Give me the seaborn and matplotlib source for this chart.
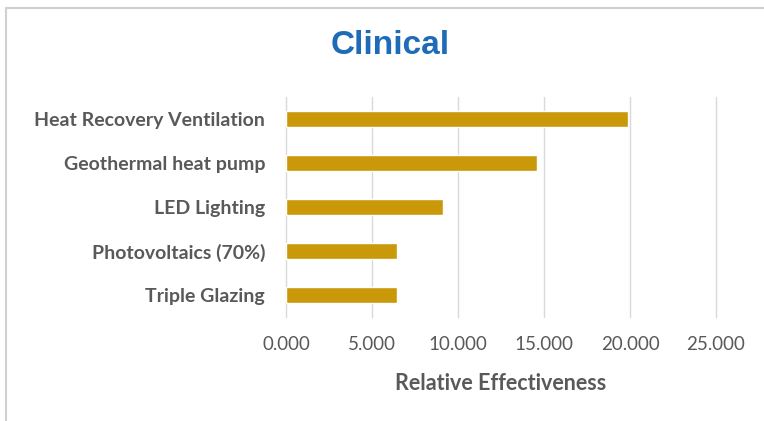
import matplotlib
matplotlib.use("Agg")
import matplotlib.pyplot as plt
import seaborn as sns
import pandas as pd
from matplotlib.ticker import FormatStrFormatter
from matplotlib.lines import Line2D

categories = ["Heat Recovery Ventilation", "Geothermal heat pump", "LED Lighting",
              "Photovoltaics (70%)", "Triple Glazing"]
values = [19.88, 14.62, 9.11, 6.44, 6.44]
x_ticks = [0, 5, 10, 15, 20, 25]
title = "Clinical"
x_label = "Relative Effectiveness"

df = pd.DataFrame({"category": categories, "value": values})

sns.set_theme(style="white")
plt.rcParams["font.family"] = ["Lato", "DejaVu Sans"]

fig = plt.figure(figsize=(7.64, 4.21), dpi=100)
ax = fig.add_axes([286 / 764, 1 - 317 / 421, (716 - 286) / 764, (317 - 97) / 421])

sns.barplot(data=df, x="value", y="category", orient="h", color="#C9990A",
            saturation=1, width=0.35, ax=ax)

ax.set_xlim(0, 25)
ax.set_xticks(x_ticks)
ax.xaxis.set_major_formatter(FormatStrFormatter("%.3f"))
ax.grid(axis="x", color="#D9D9D9", linewidth=1)
for gl in ax.get_xgridlines():
    gl.set_clip_on(False)
ax.set_axisbelow(True)
for s in ax.spines.values():
    s.set_visible(False)
ax.tick_params(axis="x", length=0, pad=14, labelsize=13.5, labelcolor="#595959")
ax.tick_params(axis="y", length=0, pad=15, labelsize=14, labelcolor="#595959")
for lab in ax.get_yticklabels():
    lab.set_fontweight("bold")
ax.set_ylabel("")
ax.set_xlabel(x_label, fontsize=15.5, fontweight="bold", color="#595959", labelpad=14)

fig.text(390 / 764, 1 - 46 / 421, title, ha="center", va="center",
         fontsize=24, fontweight="bold", color="#1E6CB8",
         family=["Liberation Sans", "DejaVu Sans"])

# chart border (top and left edges visible)
fig.add_artist(Line2D([6 / 764, 1], [1 - 8 / 421, 1 - 8 / 421], color="#D0D0D0",
                      linewidth=1.5, transform=fig.transFigure))
fig.add_artist(Line2D([6 / 764, 6 / 764], [0, 1 - 8 / 421], color="#D0D0D0",
                      linewidth=1.5, transform=fig.transFigure))

fig.savefig("out.png", dpi=100)
